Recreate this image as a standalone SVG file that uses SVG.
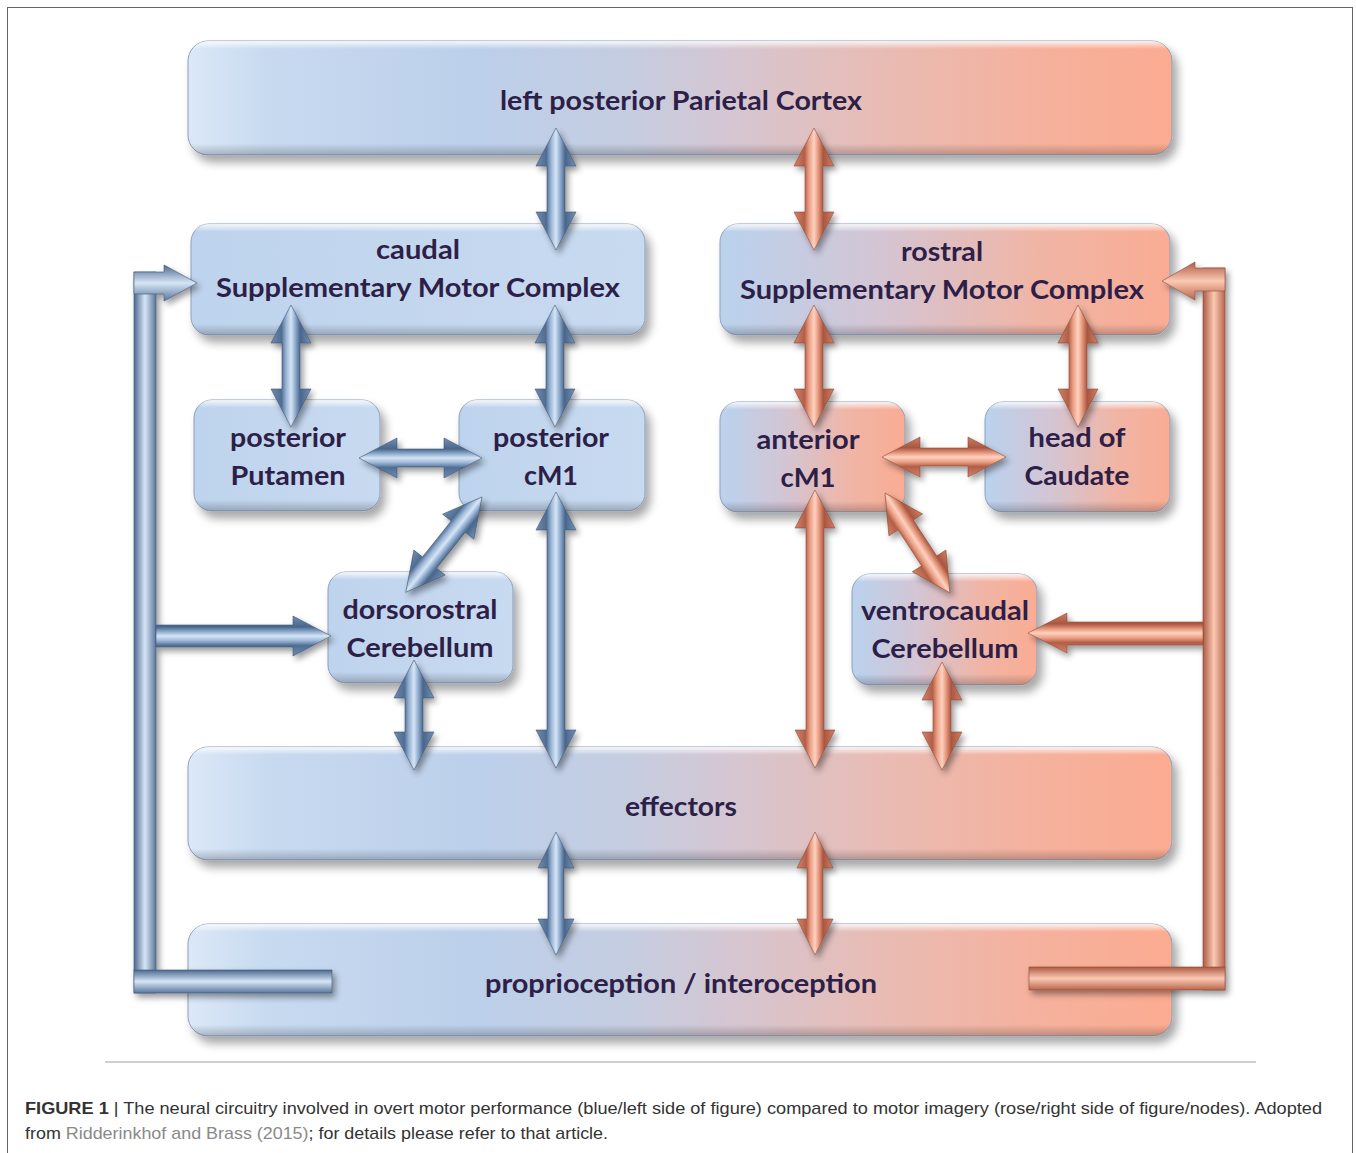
<svg xmlns="http://www.w3.org/2000/svg" width="1356" height="1153" viewBox="0 0 1356 1153">
<style>
.lbl{font-family:Lato,"Open Sans","Liberation Sans",sans-serif;font-weight:700;font-size:27px;fill:#2d1f47;text-anchor:middle}
.cap{font-family:"Liberation Sans",Arial,sans-serif;font-size:17px;fill:#333}
.box{stroke:#8d9fba;stroke-width:1}
.bev{fill:url(#bevel);pointer-events:none}
</style>
<defs>
<linearGradient id="wide" x1="0" y1="0" x2="1" y2="0">
<stop offset="0" stop-color="#dbe8f7"/>
<stop offset="0.08" stop-color="#c8daf0"/>
<stop offset="0.3" stop-color="#bccfea"/>
<stop offset="0.45" stop-color="#c5cde0"/>
<stop offset="0.55" stop-color="#d5c6d2"/>
<stop offset="0.7" stop-color="#e8bcb4"/>
<stop offset="0.85" stop-color="#f4b29f"/>
<stop offset="1" stop-color="#fbab90"/>
</linearGradient>
<linearGradient id="blueBox" x1="0" y1="0" x2="1" y2="0">
<stop offset="0" stop-color="#bed3ed"/>
<stop offset="1" stop-color="#c8daf0"/>
</linearGradient>
<linearGradient id="roseBox" x1="0" y1="0" x2="1" y2="0">
<stop offset="0" stop-color="#bad2ee"/>
<stop offset="0.35" stop-color="#d3c5d4"/>
<stop offset="0.7" stop-color="#f0b5a6"/>
<stop offset="1" stop-color="#f9ac93"/>
</linearGradient>
<linearGradient id="bevel" x1="0" y1="0" x2="0" y2="1">
<stop offset="0" stop-color="#fff" stop-opacity="0.85"/>
<stop offset="0.07" stop-color="#fff" stop-opacity="0"/>
<stop offset="0.9" stop-color="#000" stop-opacity="0"/>
<stop offset="1" stop-color="#000" stop-opacity="0.22"/>
</linearGradient>
<linearGradient id="aBlue" x1="0" y1="0" x2="0" y2="1">
<stop offset="0" stop-color="#7390b4"/>
<stop offset="0.27" stop-color="#48658b"/>
<stop offset="0.4" stop-color="#93afd1"/>
<stop offset="0.5" stop-color="#d6e5f5"/>
<stop offset="0.62" stop-color="#9ab5d6"/>
<stop offset="0.74" stop-color="#4f6c92"/>
<stop offset="1" stop-color="#6f8cb0"/>
</linearGradient>
<linearGradient id="aRose" x1="0" y1="0" x2="0" y2="1">
<stop offset="0" stop-color="#cf7e66"/>
<stop offset="0.27" stop-color="#a9563f"/>
<stop offset="0.4" stop-color="#e89a80"/>
<stop offset="0.5" stop-color="#fcd2c0"/>
<stop offset="0.62" stop-color="#eda086"/>
<stop offset="0.74" stop-color="#b25f47"/>
<stop offset="1" stop-color="#d38369"/>
</linearGradient>
<linearGradient id="barBlueV" x1="0" y1="0" x2="1" y2="0">
<stop offset="0" stop-color="#4d6a90"/>
<stop offset="0.5" stop-color="#d6e5f5"/>
<stop offset="1" stop-color="#5a779c"/>
</linearGradient>
<linearGradient id="barBlueH" x1="0" y1="0" x2="0" y2="1">
<stop offset="0" stop-color="#4d6a90"/>
<stop offset="0.5" stop-color="#d6e5f5"/>
<stop offset="1" stop-color="#5a779c"/>
</linearGradient>
<linearGradient id="barRoseV" x1="0" y1="0" x2="1" y2="0">
<stop offset="0" stop-color="#ad5a42"/>
<stop offset="0.5" stop-color="#fbc9b4"/>
<stop offset="1" stop-color="#b9654c"/>
</linearGradient>
<linearGradient id="barRoseH" x1="0" y1="0" x2="0" y2="1">
<stop offset="0" stop-color="#ad5a42"/>
<stop offset="0.5" stop-color="#fbc9b4"/>
<stop offset="1" stop-color="#b9654c"/>
</linearGradient>
<filter id="sh" x="-10%" y="-20%" width="125%" height="150%">
<feGaussianBlur in="SourceAlpha" stdDeviation="5"/>
<feOffset dx="5" dy="7" result="b"/>
<feComponentTransfer><feFuncA type="linear" slope="0.35"/></feComponentTransfer>
<feMerge><feMergeNode/><feMergeNode in="SourceGraphic"/></feMerge>
</filter>
<filter id="ash" x="-30%" y="-30%" width="160%" height="160%">
<feGaussianBlur in="SourceAlpha" stdDeviation="3"/>
<feOffset dx="3" dy="4" result="b"/>
<feComponentTransfer><feFuncA type="linear" slope="0.4"/></feComponentTransfer>
<feMerge><feMergeNode/><feMergeNode in="SourceGraphic"/></feMerge>
</filter>
</defs>
<rect x="0" y="0" width="1356" height="1153" fill="#fff"/>
<rect x="7.5" y="7.5" width="1345" height="1160" fill="none" stroke="#666" stroke-width="1"/>

<g id="node-parietal">
<rect class="box" x="188" y="41" width="984" height="114" rx="20" fill="url(#wide)" filter="url(#sh)"/>
<rect class="bev" x="188" y="41" width="984" height="114" rx="20"/>
<text class="lbl" x="681" y="110" textLength="362" lengthAdjust="spacingAndGlyphs">left posterior Parietal Cortex</text>
</g>
<g id="node-caudal-smc">
<rect class="box" x="191" y="224" width="454" height="111" rx="18" fill="url(#blueBox)" filter="url(#sh)"/>
<rect class="bev" x="191" y="224" width="454" height="111" rx="18"/>
<text class="lbl" x="418" y="259" textLength="84" lengthAdjust="spacingAndGlyphs">caudal</text>
<text class="lbl" x="418" y="297" textLength="404" lengthAdjust="spacingAndGlyphs">Supplementary Motor Complex</text>
</g>
<g id="node-rostral-smc">
<rect class="box" x="720" y="224" width="450" height="111" rx="18" fill="url(#roseBox)" filter="url(#sh)"/>
<rect class="bev" x="720" y="224" width="450" height="111" rx="18"/>
<text class="lbl" x="942" y="261" textLength="82" lengthAdjust="spacingAndGlyphs">rostral</text>
<text class="lbl" x="942" y="299" textLength="404" lengthAdjust="spacingAndGlyphs">Supplementary Motor Complex</text>
</g>
<g id="node-putamen">
<rect class="box" x="194" y="400" width="186" height="111" rx="18" fill="url(#blueBox)" filter="url(#sh)"/>
<rect class="bev" x="194" y="400" width="186" height="111" rx="18"/>
<text class="lbl" x="288" y="447" textLength="116" lengthAdjust="spacingAndGlyphs">posterior</text>
<text class="lbl" x="288" y="485" textLength="115" lengthAdjust="spacingAndGlyphs">Putamen</text>
</g>
<g id="node-posterior-cm1">
<rect class="box" x="459" y="400" width="186" height="111" rx="18" fill="url(#blueBox)" filter="url(#sh)"/>
<rect class="bev" x="459" y="400" width="186" height="111" rx="18"/>
<text class="lbl" x="551" y="447" textLength="116" lengthAdjust="spacingAndGlyphs">posterior</text>
<text class="lbl" x="551" y="485" textLength="54" lengthAdjust="spacingAndGlyphs">cM1</text>
</g>
<g id="node-anterior-cm1">
<rect class="box" x="720" y="402" width="185" height="110" rx="18" fill="url(#roseBox)" filter="url(#sh)"/>
<rect class="bev" x="720" y="402" width="185" height="110" rx="18"/>
<text class="lbl" x="808" y="449" textLength="103" lengthAdjust="spacingAndGlyphs">anterior</text>
<text class="lbl" x="808" y="487" textLength="55" lengthAdjust="spacingAndGlyphs">cM1</text>
</g>
<g id="node-caudate">
<rect class="box" x="985" y="402" width="185" height="110" rx="18" fill="url(#roseBox)" filter="url(#sh)"/>
<rect class="bev" x="985" y="402" width="185" height="110" rx="18"/>
<text class="lbl" x="1077" y="447" textLength="97" lengthAdjust="spacingAndGlyphs">head of</text>
<text class="lbl" x="1077" y="485" textLength="105" lengthAdjust="spacingAndGlyphs">Caudate</text>
</g>
<g id="node-dorsorostral">
<rect class="box" x="328" y="572" width="185" height="111" rx="18" fill="url(#blueBox)" filter="url(#sh)"/>
<rect class="bev" x="328" y="572" width="185" height="111" rx="18"/>
<text class="lbl" x="420" y="619" textLength="155" lengthAdjust="spacingAndGlyphs">dorsorostral</text>
<text class="lbl" x="420" y="657" textLength="147" lengthAdjust="spacingAndGlyphs">Cerebellum</text>
</g>
<g id="node-ventrocaudal">
<rect class="box" x="852" y="574" width="185" height="111" rx="18" fill="url(#roseBox)" filter="url(#sh)"/>
<rect class="bev" x="852" y="574" width="185" height="111" rx="18"/>
<text class="lbl" x="945" y="620" textLength="168" lengthAdjust="spacingAndGlyphs">ventrocaudal</text>
<text class="lbl" x="945" y="658" textLength="147" lengthAdjust="spacingAndGlyphs">Cerebellum</text>
</g>
<g id="node-effectors">
<rect class="box" x="188" y="747" width="984" height="113" rx="20" fill="url(#wide)" filter="url(#sh)"/>
<rect class="bev" x="188" y="747" width="984" height="113" rx="20"/>
<text class="lbl" x="681" y="816" textLength="112" lengthAdjust="spacingAndGlyphs">effectors</text>
</g>
<g id="node-proprioception">
<rect class="box" x="188" y="924" width="984" height="112" rx="20" fill="url(#wide)" filter="url(#sh)"/>
<rect class="bev" x="188" y="924" width="984" height="112" rx="20"/>
<text class="lbl" x="681" y="993" textLength="392" lengthAdjust="spacingAndGlyphs">proprioception / interoception</text>
</g>

<g id="connectors">
<g fill="url(#aBlue)" filter="url(#ash)" stroke="#3f5675" stroke-width="0.6">
<path transform="translate(556,128) rotate(90)" d="M0,0 L38,-20 L38,-9 L84,-9 L84,-20 L122,0 L84,20 L84,9 L38,9 L38,20 Z"/>
<path transform="translate(291,305) rotate(90)" d="M0,0 L38,-20 L38,-9 L84,-9 L84,-20 L122,0 L84,20 L84,9 L38,9 L38,20 Z"/>
<path transform="translate(555,305) rotate(90)" d="M0,0 L38,-20 L38,-9 L84,-9 L84,-20 L122,0 L84,20 L84,9 L38,9 L38,20 Z"/>
<path transform="translate(359,458)" d="M0,0 L38,-20 L38,-9 L85,-9 L85,-20 L123,0 L85,20 L85,9 L38,9 L38,20 Z"/>
<path transform="translate(482,497) rotate(128.66)" d="M0,0 L38,-20 L38,-9 L84,-9 L84,-20 L122,0 L84,20 L84,9 L38,9 L38,20 Z"/>
<path transform="translate(414,660) rotate(90)" d="M0,0 L38,-20 L38,-9 L72,-9 L72,-20 L110,0 L72,20 L72,9 L38,9 L38,20 Z"/>
<path transform="translate(556,492) rotate(90)" d="M0,0 L38,-20 L38,-9 L238,-9 L238,-20 L276,0 L238,20 L238,9 L38,9 L38,20 Z"/>
<path transform="translate(556,832) rotate(90)" d="M0,0 L36,-18 L36,-8 L87,-8 L87,-18 L123,0 L87,18 L87,8 L36,8 L36,18 Z"/>
<rect x="134" y="272" width="22" height="721" fill="url(#barBlueV)"/>
<rect x="134" y="970" width="198" height="23" fill="url(#barBlueH)"/>
<path d="M134,272 H164 V265 L197,283 L164,301 V294 H134 Z" fill="url(#barBlueH)"/>
<path d="M156,625 H293 V616 L331,636 L293,656 V647 H156 Z" fill="url(#aBlue)"/>
</g>
<g fill="url(#aRose)" filter="url(#ash)" stroke="#8e4b38" stroke-width="0.6">
<path transform="translate(814,128) rotate(90)" d="M0,0 L38,-20 L38,-9 L84,-9 L84,-20 L122,0 L84,20 L84,9 L38,9 L38,20 Z"/>
<path transform="translate(814,305) rotate(90)" d="M0,0 L38,-20 L38,-9 L84,-9 L84,-20 L122,0 L84,20 L84,9 L38,9 L38,20 Z"/>
<path transform="translate(1078,305) rotate(90)" d="M0,0 L38,-20 L38,-9 L84,-9 L84,-20 L122,0 L84,20 L84,9 L38,9 L38,20 Z"/>
<path transform="translate(882,457)" d="M0,0 L38,-20 L38,-9 L86,-9 L86,-20 L124,0 L86,20 L86,9 L38,9 L38,20 Z"/>
<path transform="translate(885,493) rotate(56.98)" d="M0,0 L38,-20 L38,-9 L81,-9 L81,-20 L119,0 L81,20 L81,9 L38,9 L38,20 Z"/>
<path transform="translate(815,490) rotate(90)" d="M0,0 L38,-20 L38,-9 L240,-9 L240,-20 L278,0 L240,20 L240,9 L38,9 L38,20 Z"/>
<path transform="translate(942,662) rotate(90)" d="M0,0 L38,-20 L38,-9 L70,-9 L70,-20 L108,0 L70,20 L70,9 L38,9 L38,20 Z"/>
<path transform="translate(815,832) rotate(90)" d="M0,0 L36,-18 L36,-8 L87,-8 L87,-18 L123,0 L87,18 L87,8 L36,8 L36,18 Z"/>
<rect x="1203" y="268" width="22" height="722" fill="url(#barRoseV)"/>
<rect x="1029" y="967" width="196" height="23" fill="url(#barRoseH)"/>
<path d="M1225,268 H1195 V262 L1162,281 L1195,300 V291 H1225 Z" fill="url(#barRoseH)"/>
<path d="M1203,622 H1067 V613 L1028,633 L1067,653 V645 H1203 Z" fill="url(#aRose)"/>
</g>
</g>

<line x1="105" y1="1062" x2="1256" y2="1062" stroke="#cfcfcf" stroke-width="2"/>
<text class="cap" x="25" y="1114" textLength="1297" lengthAdjust="spacingAndGlyphs"><tspan font-weight="700">FIGURE 1</tspan> | The neural circuitry involved in overt motor performance (blue/left side of figure) compared to motor imagery (rose/right side of figure/nodes). Adopted</text>
<text class="cap" x="25" y="1139" textLength="583" lengthAdjust="spacingAndGlyphs">from <tspan fill="#8a8a8a">Ridderinkhof and Brass (2015)</tspan>; for details please refer to that article.</text>
</svg>
